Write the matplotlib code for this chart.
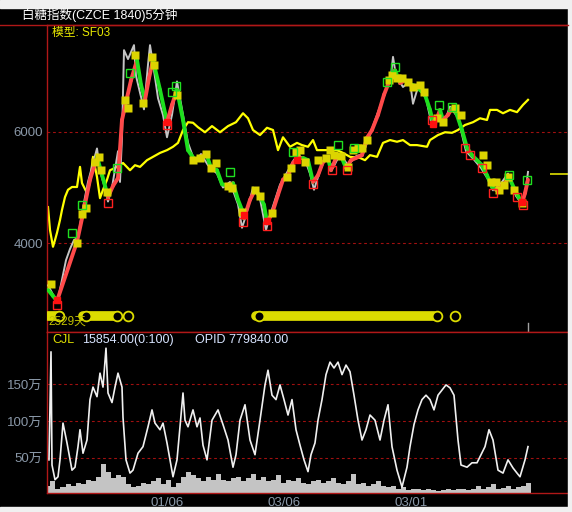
import numpy as np
import matplotlib.pyplot as plt
from matplotlib.lines import Line2D
from matplotlib.patches import Rectangle

plt.rcParams['font.family'] = ['Liberation Sans', 'Noto Sans CJK SC', 'DejaVu Sans']

# Text
title = '白糖指数(CZCE 1840)5分钟'
model_label = '模型: SF03'
days_label = '2529天'
cjl_label = 'CJL'
cjl_value = '15854.00(0:100)'
opid_label = 'OPID 779840.00'
date_ticks = [119, 236, 363]
date_labels = ['01/06', '03/06', '03/01']

# Trend line (bar index, price)
trend_x = [0, 5, 9, 29, 35, 42, 49, 56, 60, 65, 70, 74, 78, 83, 89, 93, 97, 101, 105,
           112, 119, 124, 129, 135, 140, 147, 153, 158, 163, 169, 174, 180, 185, 190,
           194, 196, 202, 207, 212, 216, 219, 224, 230, 235, 240, 245, 250, 255, 260,
           265, 270, 275, 280, 283, 288, 293, 298, 303, 308, 314, 319, 324, 330, 336,
           341, 347, 352, 357, 362, 367, 372, 377, 382, 385, 389, 392, 395, 400, 404,
           408, 414, 419, 424, 429, 434, 439, 444, 448, 452, 457, 461, 466, 470, 474,
           477, 480]
trend_y = [3170, 3060, 2970, 4030, 4530, 5140, 5550, 5100, 4830, 5030, 5170, 6210, 6530,
           6920, 7280, 6840, 6570, 6960, 7280, 6750, 6170, 6480, 6750, 6210, 5670, 5490,
           5530, 5620, 5350, 5310, 5060, 5030, 5080, 4780, 4600, 4450, 4780, 4960, 4850,
           4690, 4380, 4530, 4870, 5140, 5220, 5440, 5530, 5530, 5490, 5100, 5220, 5460,
           5530, 5310, 5530, 5570, 5350, 5490, 5530, 5580, 5890, 6030, 6300, 6660, 6890,
           7100, 6870, 6920, 6850, 6820, 6750, 6660, 6390, 6170, 6240, 6390, 6210, 6300,
           6420, 6350, 6030, 5710, 5580, 5490, 5400, 5220, 5010, 4960, 5010, 5080, 5190,
           4990, 4850, 4720, 4900, 5140]

# Close price (gray)
close_x = [0, 6, 10, 14, 18, 22, 26, 30, 34, 40, 46, 49, 52, 56, 60, 64, 70, 72, 74, 76,
           80, 86, 88, 92, 96, 100, 102, 106, 110, 115, 119, 124, 129, 134, 140, 147, 153,
           160, 169, 175, 182, 190, 194, 198, 205, 212, 218, 222, 232, 240, 246, 252, 258,
           262, 266, 272, 278, 285, 292, 300, 308, 315, 322, 330, 338, 343, 345, 348, 355,
           362, 365, 370, 378, 384, 390, 396, 402, 410, 418, 426, 433, 440, 445, 452, 460,
           468, 474, 478, 480]
close_y = [3250, 3050, 3000, 3350, 3700, 3900, 4060, 4100, 4550, 5100, 5500, 5700, 5300,
           5050, 4750, 5000, 5650, 5100, 5900, 7460, 7300, 7550, 7000, 6700, 6400, 7200,
           7550, 7100, 6600, 6300, 5900, 6300, 6900, 6400, 5800, 5450, 5600, 5400, 5250,
           5000, 5100, 4700, 4280, 4500, 5000, 4800, 4240, 4500, 5050, 5300, 5500, 5560,
           5450, 5250, 4960, 5300, 5560, 5350, 5600, 5400, 5560, 5600, 5950, 6350, 6750,
           7000, 7340, 7000, 6800, 6900, 6500, 6800, 6600, 6100, 6300, 6150, 6450, 6250,
           5650, 5500, 5350, 5150, 4950, 5050, 5250, 4850, 4700, 5000, 5280]

# Comparison index (yellow line)
index_x = [0, 2, 5, 7, 9, 12, 14, 17, 20, 24, 29, 32, 34, 39, 42, 45, 49, 52, 55, 59, 62,
           67, 72, 75, 82, 87, 92, 99, 105, 112, 119, 125, 130, 135, 140, 145, 150, 157,
           164, 172, 180, 188, 195, 200, 205, 212, 219, 225, 230, 235, 242, 249, 254, 260,
           265, 269, 275, 282, 289, 295, 302, 312, 317, 322, 329, 335, 342, 349, 355, 362,
           369, 379, 382, 390, 397, 404, 410, 417, 425, 432, 439, 442, 449, 455, 462, 469,
           475, 480]
index_y = [4650, 4240, 3940, 4060, 4190, 4420, 4600, 4830, 4960, 5010, 5010, 5370, 5080,
           4900, 5100, 5550, 5190, 4810, 4960, 5140, 5310, 5350, 5400, 5440, 5310, 5400,
           5370, 5490, 5550, 5620, 5670, 5730, 5800, 6030, 6170, 6160, 6080, 5990, 6100,
           5990, 6100, 6170, 6330, 6240, 6030, 5940, 6070, 6030, 5670, 5900, 5730, 5800,
           5760, 5730, 5850, 5670, 5670, 5670, 5670, 5620, 5550, 5530, 5490, 5580, 5550,
           5800, 5850, 5820, 5850, 5760, 5760, 5730, 5850, 5940, 5990, 5980, 6030, 6120,
           6170, 6240, 6210, 6390, 6390, 6330, 6390, 6350, 6480, 6570]
last_price = 5240

# Signal markers
yellow_sq_x = [3, 29, 34, 38, 47, 51, 53, 59, 77, 80, 87, 95, 104, 106, 129, 145, 152, 158,
               163, 168, 180, 184, 194, 207, 212, 224, 239, 243, 248, 252, 257, 270, 278,
               282, 286, 293, 300, 305, 310, 314, 319, 341, 344, 349, 354, 360, 365, 372,
               376, 389, 395, 407, 413, 435, 439, 443, 448, 451, 456, 460, 466, 474]
yellow_sq_y = [3270, 4010, 4530, 4630, 5460, 5550, 5310, 4920, 6570, 6420, 7370, 6510, 7340,
               7190, 6660, 5490, 5530, 5600, 5350, 5440, 5030, 4990, 4560, 4960, 4850, 4540,
               5190, 5350, 5640, 5670, 5460, 5490, 5530, 5670, 5580, 5570, 5370, 5670, 5710,
               5710, 5850, 6920, 7010, 6960, 6960, 6890, 6800, 6830, 6710, 6240, 6170, 6420,
               6300, 5580, 5400, 5100, 5100, 4960, 5050, 5190, 4960, 4720]
green_box_x = [24, 34, 69, 82, 124, 128, 182, 245, 290, 306, 339, 347, 391, 404, 461, 479]
green_box_y = [4190, 4690, 5350, 7050, 6710, 6820, 5280, 5640, 5760, 5710, 6890, 7160, 6480,
               6440, 5220, 5140]
red_box_x = [9, 60, 119, 195, 219, 265, 284, 299, 384, 417, 422, 434, 445, 469, 475]
red_box_y = [2900, 4720, 6120, 4380, 4310, 5060, 5310, 5310, 6210, 5710, 5580, 5350, 4900,
             4830, 4690]
red_dot_x = [9, 119, 196, 219, 249, 385, 474]
red_dot_y = [2990, 6170, 4510, 4400, 5490, 6140, 4740]

# Holding band
band_price = 2700
band_segments = [(0, 12), (35, 68), (208, 386)]
band_rings = [11, 38, 69, 80, 211, 389, 407]

# Lower panel: open interest (万) and volume (万)
oi_x = [1, 3, 4, 7, 10, 12, 15, 19, 24, 27, 30, 32, 35, 39, 42, 45, 49, 52, 55, 58, 60,
        64, 67, 70, 74, 75, 78, 82, 85, 90, 95, 100, 104, 107, 112, 115, 119, 122, 125,
        129, 132, 135, 137, 140, 145, 149, 152, 155, 159, 164, 170, 175, 180, 185, 188,
        192, 197, 202, 207, 212, 217, 220, 224, 228, 232, 236, 240, 244, 248, 252, 256,
        260, 263, 267, 270, 274, 278, 282, 286, 290, 294, 298, 302, 306, 310, 314, 318,
        322, 327, 332, 336, 340, 344, 349, 354, 359, 362, 366, 370, 374, 378, 382, 386,
        390, 394, 398, 402, 406, 410, 413, 419, 424, 429, 433, 437, 441, 445, 450, 455,
        460, 465, 469, 472, 477, 480]
oi_y = [47, 194, 40, 20, 24, 47, 97, 70, 33, 37, 65, 88, 56, 74, 129, 146, 133, 165, 146,
        199, 138, 125, 146, 165, 146, 105, 47, 29, 33, 56, 65, 92, 115, 97, 88, 97, 70, 47,
        24, 47, 92, 138, 101, 92, 115, 92, 104, 67, 47, 101, 115, 95, 74, 37, 54, 101, 122,
        74, 54, 101, 149, 169, 135, 129, 149, 129, 108, 129, 88, 67, 47, 31, 54, 70, 101,
        129, 163, 180, 172, 180, 163, 176, 167, 135, 101, 74, 88, 108, 101, 74, 101, 122,
        65, 33, 10, 37, 65, 95, 115, 129, 135, 129, 115, 135, 142, 149, 145, 135, 74, 40,
        37, 43, 43, 54, 65, 88, 74, 33, 29, 47, 36, 29, 24, 47, 65]
vol = [12, 18, 8, 10, 14, 12, 16, 14, 20, 18, 24, 42, 30, 22, 26, 24, 14, 10, 12, 16, 14,
       18, 22, 14, 20, 10, 16, 24, 30, 26, 22, 18, 24, 20, 28, 20, 18, 22, 24, 18, 22, 28,
       20, 24, 18, 20, 26, 16, 20, 18, 22, 16, 14, 18, 20, 16, 18, 22, 16, 14, 18, 28, 14,
       16, 12, 14, 18, 12, 10, 12, 8, 10, 6, 8, 8, 6, 8, 6, 5, 6, 8, 6, 7, 8, 6, 8, 12, 8,
       10, 14, 8, 9, 12, 8, 10, 12, 16]
vol_x = np.arange(0, 5 * len(vol), 5)

RED = '#b01818'
LABEL = '#8a98a8'

fig = plt.figure(figsize=(5.72, 5.12), dpi=100, facecolor='black')

# window chrome
fig.patches.append(Rectangle((0, 1 - 8 / 512), 1, 8 / 512, transform=fig.transFigure,
                             color='#f0f0f0', zorder=0))
fig.patches.append(Rectangle((0, 0), 1, 5 / 512, transform=fig.transFigure,
                             color='#f0f0f0', zorder=0))
fig.patches.append(Rectangle((568 / 572, 0), 4 / 572, 1, transform=fig.transFigure,
                             color='#f0f0f0', zorder=0))
fig.lines.append(Line2D([0, 568 / 572], [1 - 25 / 512] * 2, transform=fig.transFigure,
                        color=RED, lw=1))

ax1 = fig.add_axes([47 / 572, 1 - 332 / 512, 521 / 572, 307 / 512])
ax2 = fig.add_axes([47 / 572, 1 - 493 / 512, 521 / 572, 161 / 512])

for ax in (ax1, ax2):
    ax.set_facecolor('black')
    ax.set_xlim(-1, 520)
    for s in ['left', 'top', 'bottom']:
        ax.spines[s].set_color(RED)
        ax.spines[s].set_linewidth(1)
    ax.spines['right'].set_visible(False)
    ax.tick_params(length=0, labelcolor=LABEL, labelsize=9.5, pad=3)

# main panel
ax1.set_ylim(2414, 7910)
ax1.set_yticks([4000, 6000])
ax1.set_xticks([])
for v in [4000, 6000]:
    ax1.axhline(v, color='#a01010', lw=0.8, ls=(0, (2.5, 2.5)), zorder=1)

ax1.plot(index_x, index_y, color='#ffff00', lw=1.6, zorder=2)
ax1.plot(close_x, close_y, color='#c4c4c4', lw=1.4, zorder=3)
for i in range(len(trend_x) - 1):
    c = '#ff4a4a' if trend_y[i + 1] >= trend_y[i] else '#1ee01e'
    ax1.plot(trend_x[i:i + 2], trend_y[i:i + 2], color=c, lw=2.8,
             solid_capstyle='round', zorder=4)
ax1.plot(yellow_sq_x, yellow_sq_y, 's', ms=6, color='#dcd400', mec='none', zorder=5)
ax1.plot(green_box_x, green_box_y, 's', ms=5.5, mfc='none', mec='#20e020', mew=1, zorder=6)
ax1.plot(red_box_x, red_box_y, 's', ms=5.5, mfc='none', mec='#ff2020', mew=1, zorder=6)
ax1.plot(red_dot_x, red_dot_y, 's', ms=5, color='#ff1010', zorder=6)

for a, b in band_segments:
    ax1.plot([a, b], [band_price, band_price], color='#dcdc00', lw=7,
             solid_capstyle='round', zorder=5)
ax1.plot(band_rings, [band_price] * len(band_rings), 'o', ms=7, mfc='black',
         mec='#dcdc00', mew=1.3, zorder=6)

ax1.axvline(trend_x[-1], ymin=0, ymax=0.03, color='#a0a0a0', lw=1)
ax1.hlines(last_price, 502, 520, color='#e0e000', lw=1.2)

fig.text(22 / 572, 1 - 15 / 512, title, color='white', fontsize=9, va='center')
fig.text(52 / 572, 1 - 33 / 512, model_label, color='#e8e800', fontsize=8.5, va='center')
fig.text(48 / 572, 1 - 322 / 512, days_label, color='#c0c000', fontsize=8.5, va='center')

# lower panel
ax2.set_ylim(1.9, 221)
ax2.set_yticks([50, 100, 150])
ax2.set_yticklabels(['50万', '100万', '150万'])
ax2.set_xticks(date_ticks)
ax2.set_xticklabels(date_labels)
for v in [50, 100, 150]:
    ax2.axhline(v, color='#a01010', lw=0.8, ls=(0, (2.5, 2.5)), zorder=1)
ax2.bar(vol_x, vol, width=5, color='#c4c4c4', lw=0, zorder=2)
ax2.plot(oi_x, oi_y, color='#f0f0f0', lw=1.2, zorder=3)

fig.text(52 / 572, 1 - 340 / 512, cjl_label, color='#e0e000', fontsize=9, va='center')
fig.text(82 / 572, 1 - 340 / 512, cjl_value, color='#d8e4ff', fontsize=9, va='center')
fig.text(195 / 572, 1 - 340 / 512, opid_label, color='#d8e4ff', fontsize=9, va='center')

fig.savefig('out.png', dpi=100, facecolor='black')
